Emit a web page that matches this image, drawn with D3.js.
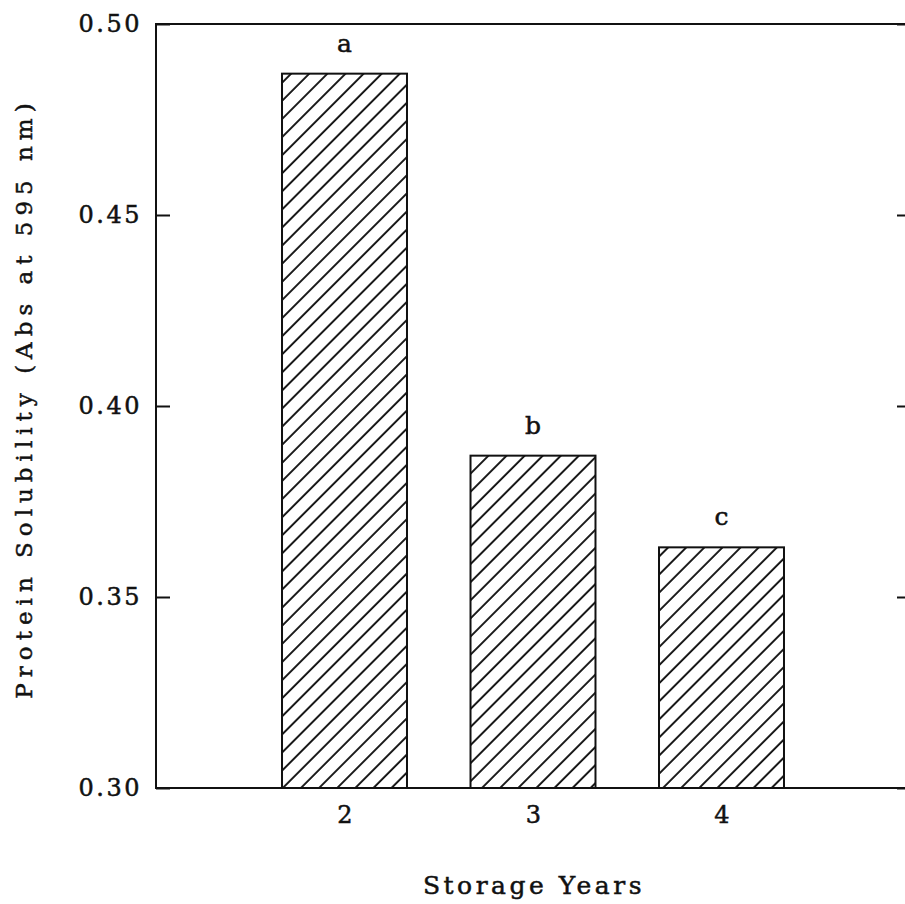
<!DOCTYPE html>
<html>
<head>
<meta charset="utf-8">
<script src="https://cdn.jsdelivr.net/npm/d3@7"></script>
<style>
  body { margin: 0; background: #fff; }
  text { font-family: "DejaVu Serif", serif; fill: #111; stroke: #111; stroke-width: 0.5px; }
</style>
</head>
<body>
<div id="chart"></div>
<script>
// data
var years = [2, 3, 4];
var solubility = [0.487, 0.387, 0.363];
var letters = ["a", "b", "c"];
var yTicks = [0.30, 0.35, 0.40, 0.45, 0.50];

function init() {
    var w = 905, h = 904;
    var left = 156, right = 910, top = 24, bottom = 788;

    var svg = d3.select("#chart").append("svg")
        .attr("width", w)
        .attr("height", h);

    // diagonal hatch "/"
    var defs = svg.append("defs");
    defs.append("pattern")
        .attr("id", "hatch")
        .attr("patternUnits", "userSpaceOnUse")
        .attr("width", 12.8)
        .attr("height", 12.8)
        .attr("patternTransform", "rotate(45)")
      .append("line")
        .attr("x1", 2).attr("y1", 0)
        .attr("x2", 2).attr("y2", 12.8)
        .attr("stroke", "#111")
        .attr("stroke-width", 1.9);

    var x = d3.scaleLinear().domain([1, 5]).range([left, right]);
    var y = d3.scaleLinear().domain([0.30, 0.50]).range([bottom, top]);
    var barW = x(1.663) - x(1);

    // frame
    svg.append("rect")
        .attr("x", left).attr("y", top)
        .attr("width", right - left).attr("height", bottom - top)
        .attr("fill", "none")
        .attr("stroke", "#111")
        .attr("stroke-width", 2);

    // left axis, ticks inward
    var yAxis = d3.axisLeft(y)
        .tickValues(yTicks)
        .tickFormat(d3.format(".2f"))
        .tickSize(-14)
        .tickPadding(14);
    var gy = svg.append("g").attr("transform", "translate(" + left + ",0)").call(yAxis);
    gy.select(".domain").remove();
    gy.selectAll(".tick line").attr("stroke", "#111").attr("stroke-width", 2);
    gy.selectAll(".tick text")
        .attr("font-size", 24)
        .attr("font-family", "DejaVu Serif")
        .attr("letter-spacing", 2.5)
        .attr("fill", "#111");

    // right axis ticks (inward, no labels)
    var yAxisR = d3.axisRight(y)
        .tickValues(yTicks)
        .tickFormat("")
        .tickSize(-13);
    var gr = svg.append("g").attr("transform", "translate(" + right + ",0)").call(yAxisR);
    gr.select(".domain").remove();
    gr.selectAll(".tick line").attr("stroke", "#111").attr("stroke-width", 2);

    // x labels, no ticks
    var xAxis = d3.axisBottom(x)
        .tickValues(years)
        .tickFormat(d3.format("d"))
        .tickSize(0)
        .tickPadding(18);
    var gx = svg.append("g").attr("transform", "translate(0," + bottom + ")").call(xAxis);
    gx.select(".domain").remove();
    gx.selectAll(".tick text")
        .attr("font-size", 24)
        .attr("font-family", "DejaVu Serif")
        .attr("fill", "#111");

    // bars
    svg.selectAll("rect.bar")
        .data(years)
        .enter()
        .append("rect")
        .attr("class", "bar")
        .attr("x", function(d) { return x(d) - barW / 2; })
        .attr("y", function(d, i) { return y(solubility[i]); })
        .attr("width", barW)
        .attr("height", function(d, i) { return y(0.30) - y(solubility[i]); })
        .attr("fill", "url(#hatch)")
        .attr("stroke", "#111")
        .attr("stroke-width", 2);

    // significance letters
    svg.selectAll("text.sig")
        .data(years)
        .enter()
        .append("text")
        .attr("class", "sig")
        .attr("x", function(d) { return x(d); })
        .attr("y", function(d, i) { return y(solubility[i]) - 22; })
        .attr("text-anchor", "middle")
        .attr("font-size", 25)
        .text(function(d, i) { return letters[i]; });

    // axis titles
    svg.append("text")
        .attr("x", 534)
        .attr("y", 894)
        .attr("text-anchor", "middle")
        .attr("font-size", 25)
        .attr("letter-spacing", 3.5)
        .text("Storage Years");

    svg.append("text")
        .attr("transform", "translate(32," + 398 + ") rotate(-90)")
        .attr("text-anchor", "middle")
        .attr("font-size", 23)
        .attr("letter-spacing", 6)
        .text("Protein Solubility (Abs at 595 nm)");
}

window.onload = init;
</script>
</body>
</html>
